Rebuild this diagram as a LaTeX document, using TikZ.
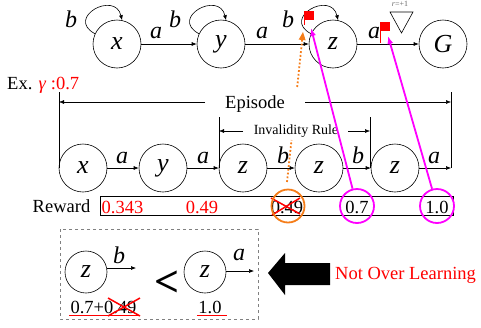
\documentclass[tikz,border=0pt]{standalone}
\usepackage{fontspec}
\setmainfont{Liberation Serif}
\usetikzlibrary{arrows.meta,calc}
\definecolor{orng}{RGB}{245,125,25}
\definecolor{mag}{RGB}{255,0,255}
\definecolor{rd}{RGB}{255,0,0}
\begin{document}
\begin{tikzpicture}[x=1pt,y=-1pt,
  st/.style={circle,draw,line width=0.6pt,minimum size=48pt,inner sep=0pt,font=\fontsize{26}{26}\selectfont\itshape},
  sts/.style={st,minimum size=42pt},
  lb/.style={anchor=base,inner sep=0pt,font=\fontsize{24}{24}\selectfont\itshape},
  txt/.style={inner sep=0pt,font=\fontsize{18.5}{20}\selectfont},
  num/.style={txt,anchor=base},
  ar/.style={-{Latex[length=5pt,width=4pt]},line width=0.6pt},
  dimln/.style={line width=0.5pt},
  magc/.style={circle,draw=mag,line width=1.8pt,minimum size=34pt,inner sep=0pt},
  magar/.style={draw=mag,line width=1.8pt,-{Latex[length=8pt,width=6pt]}},
  cross/.style={draw=rd,line width=1.5pt},
  flag/.style={fill=rd,draw=none},
]
\useasboundingbox (0,0) rectangle (481,327);

% ---------- top automaton ----------
\node[st] (x) at (117,44) {x};
\node[st] (y) at (221,44) {y};
\node[st] (z) at (333,44) {z};
\node[st] (G) at (443,44) {G};

\draw[ar] (x) -- (y);
\draw[ar] (y) -- (z);
\draw[ar] (z) -- (G);
\node[lb] (la1) at (156,38) {a};
\node[lb] (la2) at (262,38) {a};
\node[lb] (la3) at (374,38) {a};

\draw[ar] (x.155) .. controls +(-30,-16) and +(-7,-30) .. (x.78);
\draw[ar] (y.155) .. controls +(-30,-16) and +(-7,-30) .. (y.78);
\draw[ar] (z.155) .. controls +(-30,-16) and +(-7,-30) .. (z.78);
\node[lb] (lb1) at (71,27) {b};
\node[lb] (lb2) at (175,27) {b};
\node[lb] (lb3) at (288,27) {b};

% reward triangle
\draw[line width=0.6pt] (390,12) -- (413,12) -- (401.5,33) -- cycle;
\node[inner sep=0pt,text=gray!80!black,font=\fontsize{8}{8}\selectfont] (rp) at (400,4) {\textit{r}=+1};

% flags
\draw[rd,line width=0.8pt] (304,11) -- (304,25);
\fill[flag] (304,11) rectangle (314,19.5);
\draw[rd,line width=0.8pt] (380.5,22) -- (380.5,43);
\fill[flag] (380.5,22) rectangle (390,30.5);
\coordinate (f1) at (311,28);
\coordinate (f2) at (388,36);

% Ex. gamma
\node[txt,anchor=base west] (ex) at (7,89) {Ex. {\color{rd}\textit{γ} :0.7}};

% ---------- episode ----------
\draw[dimln] (59,92) -- (59,168);
\draw[dimln] (451,92) -- (451,168);
\draw[-{Latex[length=5pt,width=4pt]},line width=0.5pt] (205,102) -- (59,102);
\draw[-{Latex[length=5pt,width=4pt]},line width=0.5pt] (305,102) -- (451,102);
\node[txt] (ep) at (255,104) {Episode};

\draw[dimln] (219,117) -- (219,168);
\draw[dimln] (370,117) -- (370,168);
\draw[-{Latex[length=5pt,width=4pt]},line width=0.5pt] (243,131) -- (219,131);
\draw[-{Latex[length=5pt,width=4pt]},line width=0.5pt] (348,131) -- (370,131);
\node[inner sep=0pt,font=\fontsize{14}{14}\selectfont] (inv) at (296,131) {Invalidity Rule};

\node[st] (x2) at (83,168) {x};
\node[st] (y2) at (163,168) {y};
\node[st] (z1) at (243,168) {z};
\node[st] (z2) at (319,168) {z};
\node[st] (z3) at (395,168) {z};
\coordinate (e) at (451,168);
\draw[ar] (x2) -- (y2);
\draw[ar] (y2) -- (z1);
\draw[ar] (z1) -- (z2);
\draw[ar] (z2) -- (z3);
\draw[ar] (z3) -- (e);
\node[lb] (ba1) at (122,163) {a};
\node[lb] (ba2) at (203,163) {a};
\node[lb] (bb1) at (283,163) {b};
\node[lb] (bb2) at (358,163) {b};
\node[lb] (ba3) at (434,163) {a};

% ---------- reward row ----------
\node[num] (rw) at (61.5,212) {Reward};
\draw[line width=0.6pt] (100,196) rectangle (453,215);
\node[num,text=rd] (r1) at (122.5,213) {0.343};
\node[num,text=rd] (r2) at (202,213) {0.49};
\node[num] (r3) at (287,213) {0.49};
\node[num] (r4) at (357,213) {0.7};
\node[num] (r5) at (437,213) {1.0};
\draw[cross] (271,198) -- (300,214);
\draw[cross] (272,215) -- (300,198);
\node[circle,draw=orng,line width=1.8pt,minimum size=33pt,inner sep=0pt] (c049) at (288,206) {};
\node[magc] (c07) at (357,206) {};
\node[magc] (c10) at (437,206) {};

\draw[magar] (c07) -- (f1);
\draw[magar] (c10) -- (f2);

% orange dotted arrow
\coordinate (o1) at (287,182);
\coordinate (o2) at (291.5,140);
\coordinate (o3) at (297.2,87);
\coordinate (o4) at (303,32);
\draw[orng,line width=1.8pt,dotted] (o1) -- (o2);
\draw[orng,line width=1.8pt,dotted,-{Triangle[length=8pt,width=7pt,line width=0pt]}] (o3) -- (o4);

% ---------- comparison box ----------
\draw[gray,dashed,line width=0.7pt] (60,229) rectangle (258,319);
\node[sts] (zb1) at (86,272) {z};
\node[sts] (zb2) at (205,272) {z};
\coordinate (ab1) at (136,268);
\coordinate (ab2) at (254,271);
\draw[ar] (zb1.east |- ab1) -- (ab1);
\draw[ar] (zb2.east |- ab2) -- (ab2);
\node[lb] (lbb) at (119,263) {b};
\node[lb] (lba) at (239,260) {a};
\node[inner sep=0pt,font=\fontsize{44}{44}\selectfont\bfseries] (lt) at (167.5,284) {<};
\node[num] (sum) at (103.5,313) {0.7+0.49};
\node[num] (one) at (210,313) {1.0};
\draw[rd,line width=0.9pt] (69,315) -- (140,315);
\draw[rd,line width=0.9pt] (197,315) -- (227,315);
\draw[cross] (108,298) -- (140,316);
\draw[cross] (108,316) -- (140,298);

% big arrow
\fill[black] (268,273) -- (285,253) -- (285,263) -- (330,263) -- (330,285) -- (285,285) -- (285,295) -- cycle;
\node[num,anchor=base west,text=rd] (nol) at (335,279) {Not Over Learning};
\end{tikzpicture}
\end{document}
